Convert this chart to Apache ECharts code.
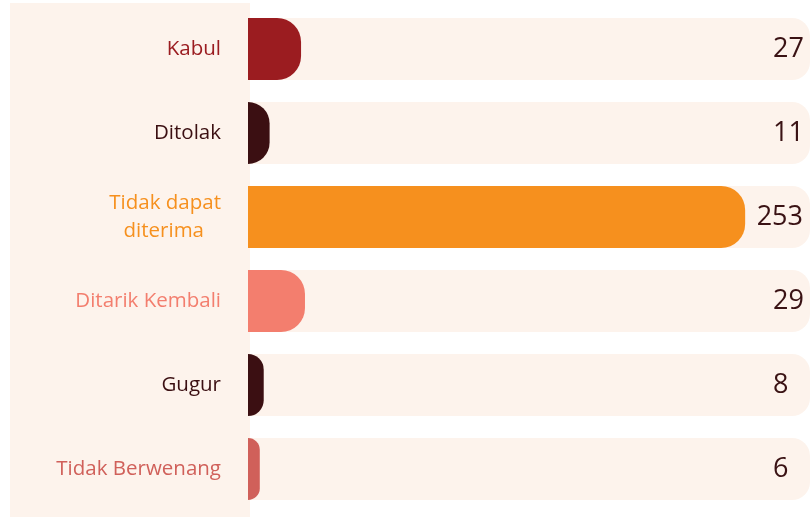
<!DOCTYPE html>
<html>
<head>
<meta charset="utf-8">
<script src="https://cdn.jsdelivr.net/npm/echarts@6/dist/echarts.min.js"></script>
<style>
  html, body { margin: 0; padding: 0; background: #fff; }
  #chart { width: 810px; height: 517px; }
</style>
</head>
<body>
<div id="chart"></div>
<script>
// status permohonan
var categories = ['Kabul', 'Ditolak', 'Tidak dapat\nditerima', 'Ditarik Kembali', 'Gugur', 'Tidak Berwenang'];
var values = [27, 11, 253, 29, 8, 6];
var colors = ['#9b1c20', '#3b0f12', '#f6901e', '#f37e6e', '#3b0f12', '#d0605a'];
var maxValue = 286;

var myChart = echarts.init(document.getElementById('chart'));

// latar belakang abu (track) + angka di kanan
var trackData = values.map(function (v) {
    var wide = String(v).length > 2;
    return {
        value: maxValue,
        label: wide ? { position: [555, '50%'], align: 'right' } : { position: [525, '50%'], align: 'left' }
    };
});

var option = {
    animation: false,
    graphic: [{
        type: 'rect',
        z: -10,
        shape: { x: 10, y: 3, width: 240, height: 520 },
        style: { fill: '#fdf3ec' }
    }],
    grid: { left: 248, right: 0, top: 7, bottom: 6 },
    xAxis: {
        type: 'value',
        min: 0,
        max: maxValue,
        show: false
    },
    yAxis: {
        type: 'category',
        inverse: true,
        data: categories,
        axisLine: { show: false },
        axisTick: { show: false },
        axisLabel: {
            margin: 27,
            fontFamily: 'Open Sans',
            fontSize: 20.5,
            lineHeight: 28,
            color: function (v, i) { return colors[i]; },
            formatter: function (v) {
                var parts = v.split('\n');
                if (parts.length > 1) {
                    return '{a|' + parts[0] + '}\n{b|' + parts[1] + '}';
                }
                return v;
            },
            rich: {
                a: { fontFamily: 'Open Sans', fontSize: 20.5, lineHeight: 28, color: '#f6901e' },
                b: { fontFamily: 'Open Sans', fontSize: 20.5, lineHeight: 28, color: '#f6901e', padding: [0, 17, 0, 0] }
            }
        }
    },
    series: [
        {
            type: 'bar',
            data: trackData,
            barWidth: 62,
            silent: true,
            itemStyle: { color: '#fdf3ec', borderRadius: [0, 18, 18, 0] },
            label: {
                show: true,
                verticalAlign: 'middle',
                fontFamily: 'Open Sans',
                fontSize: 27,
                color: '#3a1214',
                formatter: function (p) { return values[p.dataIndex]; }
            }
        },
        {
            type: 'bar',
            data: values.map(function (v, i) {
                return { value: v, itemStyle: { color: colors[i] } };
            }),
            barWidth: 62,
            barGap: '-100%',
            itemStyle: { borderRadius: [0, 24, 24, 0] }
        }
    ]
};
myChart.setOption(option);
</script>
</body>
</html>
